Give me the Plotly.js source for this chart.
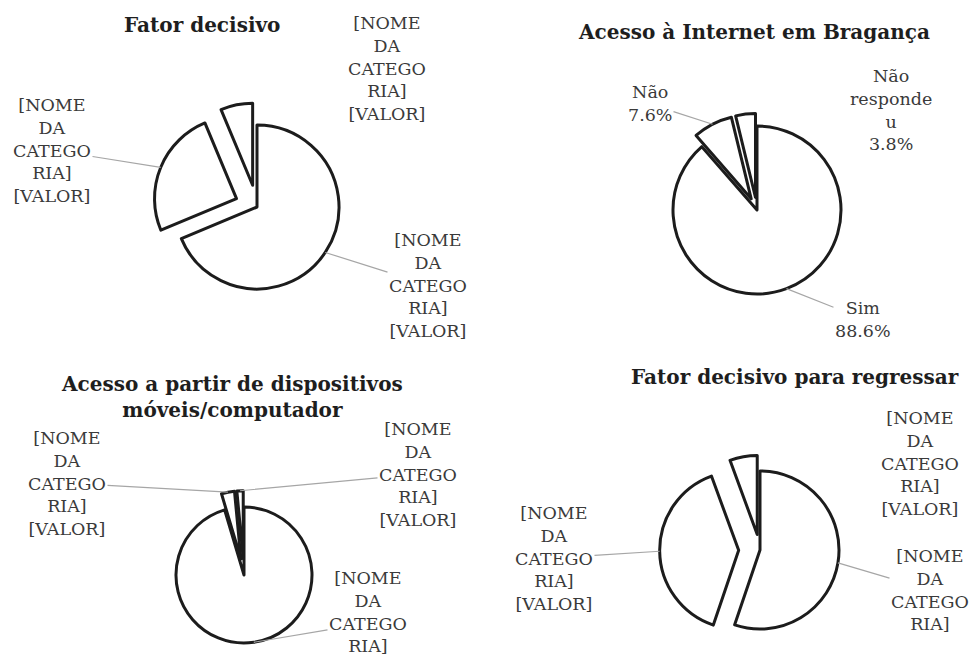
<!DOCTYPE html>
<html>
<head>
<meta charset="utf-8">
<script src="https://cdn.plot.ly/plotly-3.0.1.min.js"></script>
<style>
  html, body { margin: 0; padding: 0; overflow: hidden; background: #fff; }
  #chart { width: 971px; height: 700px; }
</style>
</head>
<body>
<div id="chart"></div>
<script>
// ---------------- DATA ----------------
const fatorTitle = 'Fator decisivo';
const fatorValues = [68.7, 25.0, 6.3];
const fatorText = ['[NOME<br>DA<br>CATEGO<br>RIA]<br>[VALOR]', '[NOME<br>DA<br>CATEGO<br>RIA]<br>[VALOR]', '[NOME<br>DA<br>CATEGO<br>RIA]<br>[VALOR]'];

const internetTitle = 'Acesso à Internet em Bragança';
const internetLabels = ['Sim', 'Não', 'Não<br>responde<br>u'];
const internetValues = [88.6, 7.6, 3.8];

const dispTitle = 'Acesso a partir de dispositivos<br>móveis/computador';
const dispValues = [95.4, 3.1, 1.5];
const dispText = ['[NOME<br>DA<br>CATEGO<br>RIA]<br>[VALOR]', '[NOME<br>DA<br>CATEGO<br>RIA]<br>[VALOR]', '[NOME<br>DA<br>CATEGO<br>RIA]<br>[VALOR]'];

const regTitle = 'Fator decisivo para regressar';
const regValues = [55.2, 39.2, 5.6];
const regText = ['[NOME<br>DA<br>CATEGO<br>RIA]', '[NOME<br>DA<br>CATEGO<br>RIA]<br>[VALOR]', '[NOME<br>DA<br>CATEGO<br>RIA]<br>[VALOR]'];

const internetText = internetLabels.map((l, i) => l + '<br>' + internetValues[i].toFixed(1) + '%');

// ---------------- LAYOUT / STYLE ----------------
const W = 971, H = 700;
const serif = 'DejaVu Serif, Georgia, serif';
const labelFont = {family: serif, size: 17.5, color: '#3a3a3a'};
const titleFont = {family: serif, size: 20, color: '#1e1e1e'};

const charts = [
  {values: fatorValues, text: fatorText, title: fatorTitle, titlePos: [202, 25],
   cx: 257, cy: 207, r: 82, pull: [0, 0.27, 0.27],
   textPos: [[428, 285, true], [52, 150, true], [387, 68, false]]},
  {values: internetValues, text: internetText, title: internetTitle, titlePos: [754, 32],
   cx: 757, cy: 210, r: 84, pull: [0, 0.15, 0.15],
   textPos: [[863, 319, true], [650, 104, true], [891, 110, false]]},
  {values: dispValues, text: dispText, title: dispTitle, titlePos: [232, 397],
   cx: 244, cy: 575, r: 68, pull: [0, 0.24, 0.24],
   textPos: [[368, 623, true], [67, 483, true], [418, 474, true]]},
  {values: regValues, text: regText, title: regTitle, titlePos: [795, 377],
   cx: 760, cy: 550, r: 79, pull: [0, 0.27, 0.2],
   textPos: [[930, 590, true], [554, 558, true], [920, 463, false]]}
];

const traces = [];
const annotations = [];

charts.forEach(c => {
  const maxPull = Math.max(...c.pull);
  const half = c.r * (1 + maxPull);
  traces.push({
    type: 'pie',
    values: c.values,
    sort: false,
    direction: 'clockwise',
    rotation: 0,
    pull: c.pull,
    textinfo: 'none',
    hoverinfo: 'skip',
    marker: {colors: c.values.map(() => '#ffffff'), line: {color: '#1c1c1c', width: 3}},
    domain: {x: [(c.cx - half) / W, (c.cx + half) / W], y: [1 - (c.cy + half) / H, 1 - (c.cy - half) / H]},
    showlegend: false
  });
  annotations.push({
    xref: 'paper', yref: 'paper', x: c.titlePos[0] / W, y: 1 - c.titlePos[1] / H,
    text: '<b>' + c.title + '</b>', showarrow: false, font: titleFont,
    xanchor: 'center', yanchor: 'middle'
  });
  const total = c.values.reduce((a, b) => a + b, 0);
  let cum = 0;
  c.values.forEach((v, i) => {
    const mid = (cum + v / 2) / total * 2 * Math.PI;
    cum += v;
    const rr = c.r * (1 + c.pull[i]);
    const tipX = c.cx + rr * Math.sin(mid);
    const tipY = c.cy - rr * Math.cos(mid);
    const [tx, ty, arrow] = c.textPos[i];
    if (arrow) {
      annotations.push({
        xref: 'paper', yref: 'paper', x: tipX / W, y: 1 - tipY / H,
        ax: tx - tipX, ay: ty - tipY,
        text: c.text[i], showarrow: true, arrowhead: 0, arrowwidth: 1.2,
        arrowcolor: '#a6a6a6', standoff: 0, font: labelFont, align: 'center'
      });
    } else {
      annotations.push({
        xref: 'paper', yref: 'paper', x: tx / W, y: 1 - ty / H,
        text: c.text[i], showarrow: false, font: labelFont, align: 'center',
        xanchor: 'center', yanchor: 'middle'
      });
    }
  });
});

Plotly.newPlot('chart', traces, {
  width: W, height: H,
  margin: {l: 0, r: 0, t: 0, b: 0},
  paper_bgcolor: '#ffffff',
  showlegend: false,
  annotations: annotations
}, {displayModeBar: false, staticPlot: true});
</script>
</body>
</html>
